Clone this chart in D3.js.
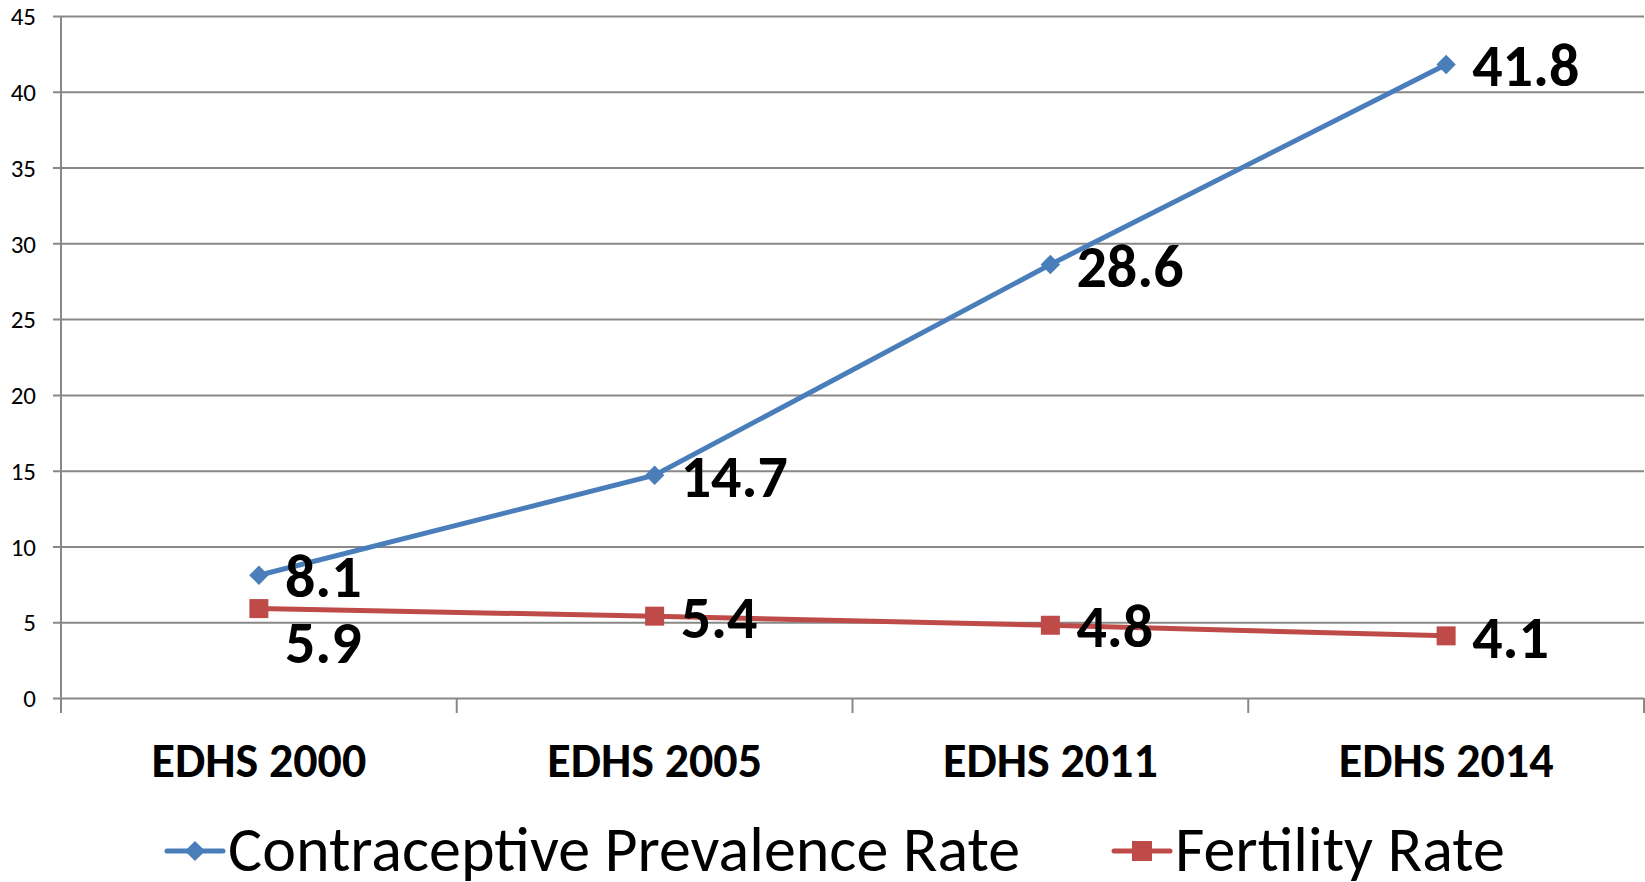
<!DOCTYPE html>
<html>
<head>
<meta charset="utf-8">
<script src="https://cdn.jsdelivr.net/npm/d3@7"></script>
<style>
  body { margin: 0; background: #fff; }
  svg text { font-family: Carlito, Calibri, Lato, sans-serif; }
</style>
</head>
<body>
<div id="chart"></div>
<script>
var categories = ["EDHS 2000", "EDHS 2005", "EDHS 2011", "EDHS 2014"];
var cpr = [8.1, 14.7, 28.6, 41.8];
var fertility = [5.9, 5.4, 4.8, 4.1];
var yTicks = [0, 5, 10, 15, 20, 25, 30, 35, 40, 45];
var seriesNames = ["Contraceptive Prevalence Rate", "Fertility Rate"];

var w = 1645, h = 882;
var pLeft = 61, pRight = 1644, pTop = 16, pBottom = 698;
var blue = "#4a7ebb", red = "#be4b48", grid = "#888888";

var svg = d3.select("#chart").append("svg")
    .attr("width", w)
    .attr("height", h);

var x = d3.scaleBand().domain(categories).range([pLeft, pRight]);
var y = d3.scaleLinear().domain([0, 45]).range([pBottom, pTop]);

// horizontal gridlines + y labels
var yAxis = d3.axisLeft(y)
    .tickValues(yTicks)
    .tickSizeInner(-(pRight - pLeft))
    .tickSizeOuter(0)
    .tickPadding(0);

var gy = svg.append("g")
    .attr("transform", "translate(" + pLeft + ",0)")
    .call(yAxis);
gy.select(".domain").remove();
gy.selectAll(".tick line")
    .attr("x1", -8)
    .attr("stroke", grid)
    .attr("stroke-width", 2);
gy.selectAll(".tick text")
    .attr("x", -25)
    .attr("dy", "0.35em")
    .attr("font-size", 25)
    .attr("fill", "#000");

// vertical axis line
svg.append("line")
    .attr("x1", pLeft).attr("x2", pLeft)
    .attr("y1", pTop).attr("y2", pBottom + 15)
    .attr("stroke", grid).attr("stroke-width", 2);

// category tick marks at band boundaries
var bounds = categories.map(function (c) { return x(c); }).concat([pRight]);
svg.selectAll("line.xtick")
    .data(bounds)
    .enter()
    .append("line")
    .attr("class", "xtick")
    .attr("x1", function (d) { return d; })
    .attr("x2", function (d) { return d; })
    .attr("y1", pBottom)
    .attr("y2", pBottom + 15)
    .attr("stroke", grid)
    .attr("stroke-width", 2);

// category labels
svg.selectAll("text.cat")
    .data(categories)
    .enter()
    .append("text")
    .attr("class", "cat")
    .attr("x", function (d) { return x(d) + x.bandwidth() / 2; })
    .attr("y", 777)
    .attr("text-anchor", "middle")
    .attr("font-size", 48)
    .attr("font-weight", "bold")
    .text(function (d) { return d; });

var cx = function (d, i) { return x(categories[i]) + x.bandwidth() / 2; };

var line = d3.line()
    .x(function (d, i) { return cx(d, i); })
    .y(function (d) { return y(d); });

var diamond = d3.symbol().type(d3.symbolDiamond2).size(240);

// CPR series
svg.append("path")
    .datum(cpr)
    .attr("d", line)
    .attr("fill", "none")
    .attr("stroke", blue)
    .attr("stroke-width", 5);

svg.selectAll("path.cprMark")
    .data(cpr)
    .enter()
    .append("path")
    .attr("class", "cprMark")
    .attr("d", diamond)
    .attr("fill", blue)
    .attr("transform", function (d, i) { return "translate(" + cx(d, i) + "," + y(d) + ")"; });

// Fertility series
svg.append("path")
    .datum(fertility)
    .attr("d", line)
    .attr("fill", "none")
    .attr("stroke", red)
    .attr("stroke-width", 5);

svg.selectAll("rect.ferMark")
    .data(fertility)
    .enter()
    .append("rect")
    .attr("class", "ferMark")
    .attr("x", function (d, i) { return cx(d, i) - 9.5; })
    .attr("y", function (d) { return y(d) - 9.5; })
    .attr("width", 19)
    .attr("height", 19)
    .attr("fill", red);

// data labels
svg.selectAll("text.cprLab")
    .data(cpr)
    .enter()
    .append("text")
    .attr("class", "cprLab")
    .attr("x", function (d, i) { return cx(d, i) + 26; })
    .attr("y", function (d) { return y(d) + 22; })
    .attr("font-size", 60)
    .attr("font-weight", "bold")
    .text(function (d) { return d.toFixed(1); });

svg.selectAll("text.ferLab")
    .data(fertility)
    .enter()
    .append("text")
    .attr("class", "ferLab")
    .attr("x", function (d, i) { return cx(d, i) + 26; })
    .attr("y", function (d, i) { return y(d) + (i === 0 ? 54 : 22); })
    .attr("font-size", 60)
    .attr("font-weight", "bold")
    .text(function (d) { return d.toFixed(1); });

// legend
var legend = [
    { name: seriesNames[0], color: blue, x: 167, shape: "diamond" },
    { name: seriesNames[1], color: red, x: 1114, shape: "square" }
];
var ly = 851;
var lg = svg.selectAll("g.legend")
    .data(legend)
    .enter()
    .append("g")
    .attr("class", "legend")
    .attr("transform", function (d) { return "translate(" + d.x + "," + ly + ")"; });

lg.append("line")
    .attr("x1", 0).attr("x2", 56)
    .attr("y1", 0).attr("y2", 0)
    .attr("stroke", function (d) { return d.color; })
    .attr("stroke-width", 5)
    .attr("stroke-linecap", "round");

lg.append("path")
    .attr("d", function (d) {
        return d.shape === "diamond"
            ? d3.symbol().type(d3.symbolDiamond2).size(260)()
            : "M-10,-10H10V10H-10Z";
    })
    .attr("transform", "translate(28,0)")
    .attr("fill", function (d) { return d.color; });

lg.append("text")
    .attr("x", 61)
    .attr("y", 20)
    .attr("font-size", 64)
    .text(function (d) { return d.name; });
</script>
</body>
</html>
